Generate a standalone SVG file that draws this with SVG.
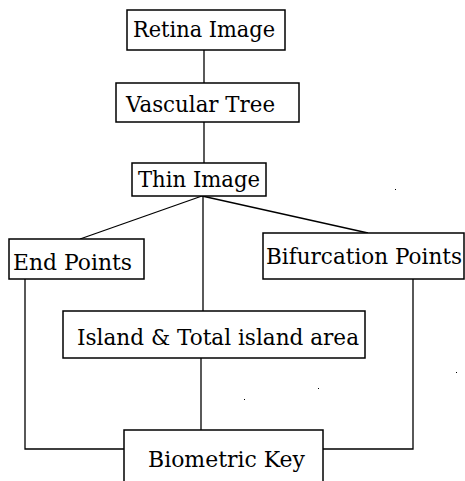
<svg xmlns="http://www.w3.org/2000/svg" width="465" height="481" viewBox="0 0 465 481">
<style>
.box{fill:#fff;stroke:#000;stroke-width:1.5}
.lbl{font-family:"DejaVu Serif","Liberation Serif",serif;font-size:22px;fill:#000}
.con{fill:none;stroke:#000;stroke-width:1.3}
.dot{fill:#000}
</style>
<rect width="465" height="481" fill="#fff"/>
<g id="connectors">
<line class="con" x1="204" y1="50" x2="204" y2="83"/>
<line class="con" x1="204" y1="122" x2="204" y2="163"/>
<line class="con" x1="202" y1="196" x2="80" y2="239"/>
<line class="con" x1="202" y1="196" x2="368" y2="233"/>
<line class="con" x1="203" y1="196" x2="203" y2="311"/>
<line class="con" x1="201" y1="358" x2="201" y2="430"/>
<polyline class="con" points="25,279 25,449 124,449"/>
<polyline class="con" points="413,279 413,449 323,449"/>
</g>
<g id="retina"><rect class="box" x="127" y="10" width="158" height="40"/><text class="lbl" x="133" y="37" textLength="142" lengthAdjust="spacingAndGlyphs">Retina Image</text></g>
<g id="vascular"><rect class="box" x="116" y="83" width="183" height="39"/><text class="lbl" x="126" y="112" textLength="149" lengthAdjust="spacingAndGlyphs">Vascular Tree</text></g>
<g id="thin"><rect class="box" x="132" y="163" width="134" height="33"/><text class="lbl" x="138" y="187" textLength="122" lengthAdjust="spacingAndGlyphs">Thin Image</text></g>
<g id="endpoints"><rect class="box" x="9" y="239" width="135" height="40"/><text class="lbl" x="13" y="270" textLength="119" lengthAdjust="spacingAndGlyphs">End Points</text></g>
<g id="bifurcation"><rect class="box" x="263" y="233" width="201" height="46"/><text class="lbl" x="266" y="264" textLength="196" lengthAdjust="spacingAndGlyphs">Bifurcation Points</text></g>
<g id="island"><rect class="box" x="63" y="311" width="302" height="47"/><text class="lbl" x="77" y="345" font-size="24" textLength="282" lengthAdjust="spacingAndGlyphs">Island &amp; Total island area</text></g>
<g id="biometric"><rect class="box" x="124" y="430" width="199" height="60"/><text class="lbl" x="148" y="467" textLength="157" lengthAdjust="spacingAndGlyphs">Biometric Key</text></g>
<g id="specks">
<rect class="dot" x="395" y="189" width="1" height="1"/>
<rect class="dot" x="456" y="372" width="1" height="1"/>
<rect class="dot" x="318" y="388" width="1" height="1"/>
<rect class="dot" x="244" y="399" width="1" height="1"/>
</g>
</svg>
